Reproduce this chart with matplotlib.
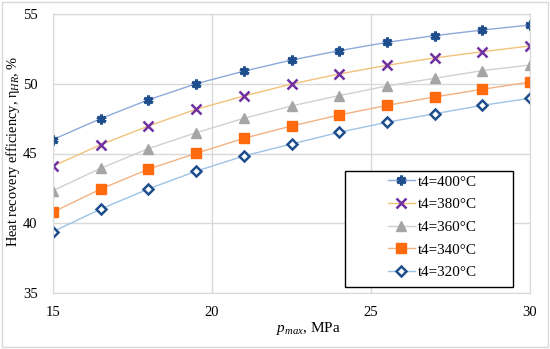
""" Heat recovery efficiency vs maximum pressure """

import matplotlib
matplotlib.use("Agg")
import matplotlib.pyplot as plt
from matplotlib.patches import Rectangle

p_max = [15, 16.5, 18, 19.5, 21, 22.5, 24, 25.5, 27, 28.5, 30]

eta_400 = [46.0, 47.5, 48.85, 50.0, 50.9, 51.7, 52.37, 52.97, 53.45, 53.85, 54.21]
eta_380 = [44.1, 45.63, 46.97, 48.17, 49.12, 49.98, 50.7, 51.32, 51.85, 52.3, 52.71]
eta_360 = [42.34, 43.94, 45.35, 46.49, 47.52, 48.41, 49.15, 49.84, 50.39, 50.94, 51.34]
eta_340 = [40.8, 42.45, 43.88, 45.01, 46.09, 46.97, 47.76, 48.45, 49.05, 49.6, 50.13]
eta_320 = [39.4, 41.02, 42.46, 43.73, 44.82, 45.68, 46.52, 47.24, 47.85, 48.45, 48.96]

labels = ["t4=400°C", "t4=380°C", "t4=360°C", "t4=340°C", "t4=320°C"]
x_ticks = [15, 20, 25, 30]
y_ticks = [35, 40, 45, 50, 55]


def main():
    plt.rcParams["font.family"] = ["Liberation Serif", "DejaVu Serif"]
    plt.rcParams["mathtext.fontset"] = "custom"
    plt.rcParams["mathtext.rm"] = "Liberation Serif"
    plt.rcParams["mathtext.it"] = "Liberation Serif:italic"

    fig = plt.figure(figsize=(5.5, 3.49), dpi=100)
    fig.patches.append(Rectangle((0.004, 0.006), 0.992, 0.988, transform=fig.transFigure,
                                 fill=False, edgecolor="#D9D9D9", linewidth=1))
    ax = fig.add_axes([53 / 550, 1 - 293 / 349, 477 / 550, 279 / 349])

    styles = [
        (eta_400, "#8EA9DB", "#1F4E8C", dict(marker=(6, 2, 0), markersize=7, markeredgewidth=2.2)),
        (eta_380, "#F2C27B", "#7030A0", dict(marker="x", markersize=7, markeredgewidth=1.8)),
        (eta_360, "#D0D0D0", "#A5A5A5", dict(marker="^", markersize=7.5)),
        (eta_340, "#F4B183", "#FF6A0E", dict(marker="s", markersize=7)),
        (eta_320, "#9DC3E6", "#1F4E8C", dict(marker="D", markersize=5.5, markeredgewidth=1.8,
                                             markerfacecolor="white")),
    ]
    for (vals, lc, mc, mk), lab in zip(styles, labels):
        opts = dict(markeredgecolor=mc, markerfacecolor=mc)
        opts.update(mk)
        ax.plot(p_max, vals, color=lc, linewidth=1, label=lab, **opts)

    ax.set_xlim(15, 30)
    ax.set_ylim(35, 55)
    ax.set_xticks(x_ticks)
    ax.set_yticks(y_ticks)
    ax.grid(True, color="#D9D9D9", linewidth=1)
    ax.set_axisbelow(True)
    for s in ax.spines.values():
        s.set_color("#D9D9D9")
    ax.tick_params(length=0, labelsize=10.5)
    ax.tick_params(axis="x", pad=9)
    ax.tick_params(axis="y", pad=11)

    ax.set_xlabel("$p_{max}$, MPa", fontsize=11)
    ax.xaxis.set_label_coords(0.535, -0.097)
    ax.set_ylabel("Heat recovery efficiency, η$_{HR}$, %", fontsize=10.4)
    ax.yaxis.set_label_coords(-0.066, 0.509)

    # legend box (Excel-style, wider than its content)
    ax.add_patch(Rectangle((0.612, 0.0215), 0.352, 0.416, transform=ax.transAxes,
                           facecolor="white", edgecolor="black", linewidth=1,
                           zorder=5, clip_on=False))
    leg = ax.legend(loc="upper left", bbox_to_anchor=(0.702, 0.423), borderaxespad=0,
                    borderpad=0, fontsize=10.9, frameon=False, handlelength=1.8,
                    labelspacing=0.6, handletextpad=0.2)
    leg.set_zorder(6)

    fig.savefig("out.png", dpi=100)


if __name__ == "__main__":
    main()
